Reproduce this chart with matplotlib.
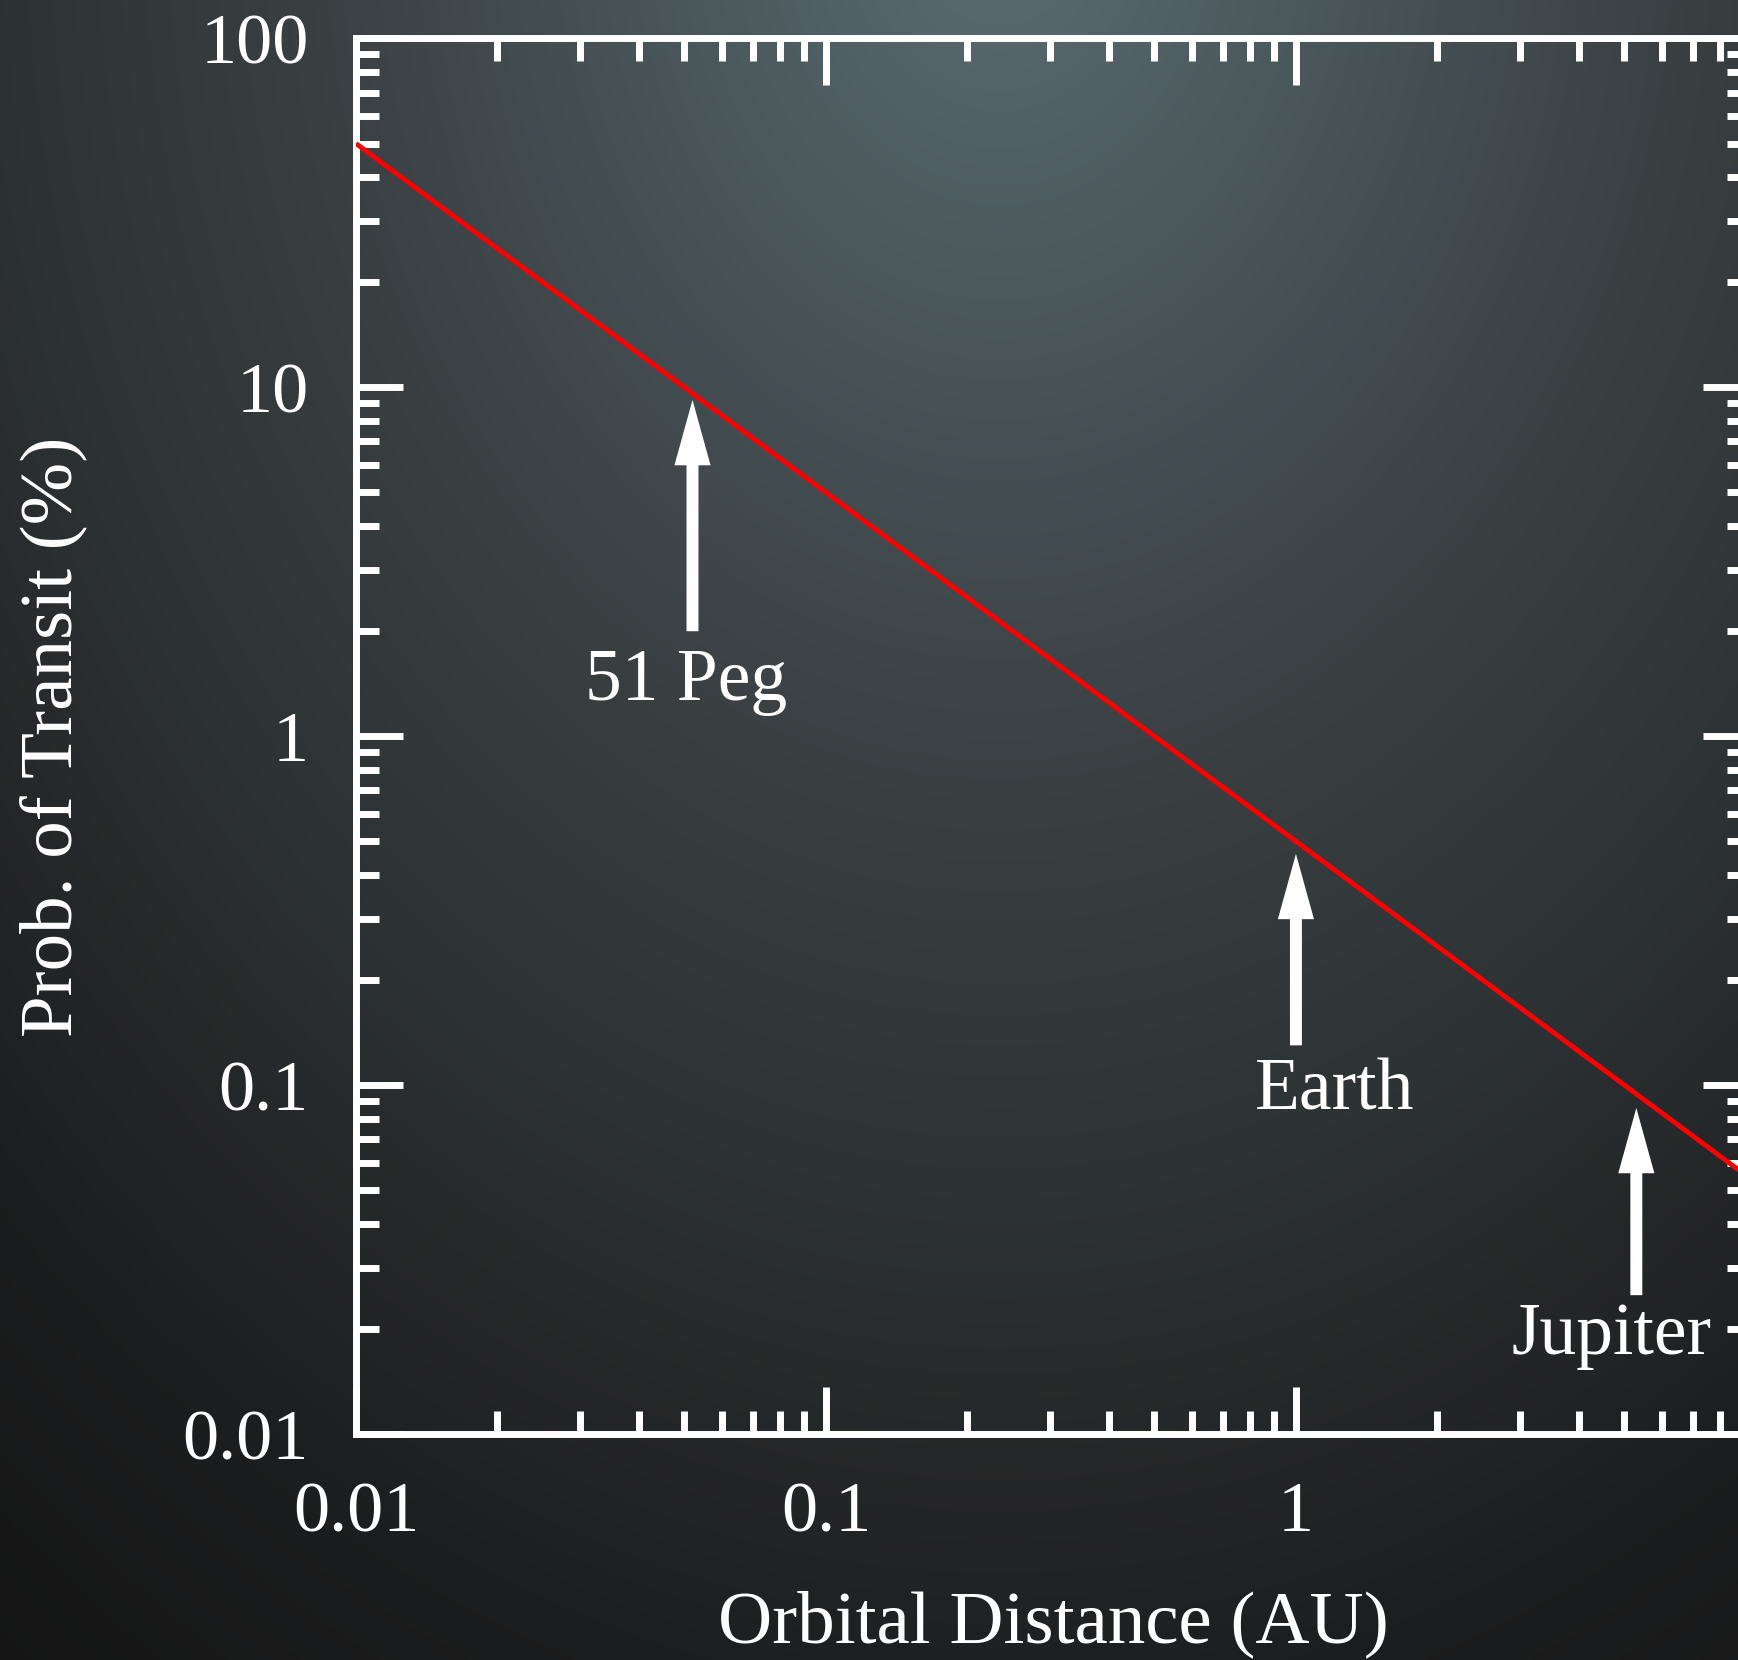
import numpy as np
import matplotlib
matplotlib.use("Agg")
import matplotlib.pyplot as plt
from matplotlib.ticker import LogLocator, FuncFormatter, NullFormatter
from matplotlib.colors import to_rgb

# ---------------- data ----------------
distance_au = [0.01, 10.0]          # orbital distance (AU), line endpoints
transit_prob = [50.0, 0.05]         # probability of transit (%)

planet_names = ["51 Peg", "Earth", "Jupiter"]
planet_dist = [0.052, 1.0, 5.3]     # AU
arrow_tip_prob = [9.2, 0.46, 0.086]
arrow_tail_prob = [2.0, 0.13, 0.025]

x_ticks = [0.01, 0.1, 1]
y_ticks = [0.01, 0.1, 1, 10, 100]

# ---------------- figure ----------------
W, H = 1738, 1660
plt.rcParams['font.family'] = ['Liberation Serif', 'DejaVu Serif']
fig = plt.figure(figsize=(W / 100, H / 100), dpi=100)

# background gradient
bg = fig.add_axes([0, 0, 1, 1], zorder=0)
gw, gh = 435, 415
xs = np.linspace(0, W, gw)
ys = np.linspace(0, H, gh)
X, Y = np.meshgrid(xs, ys)
D = np.sqrt((1.3 * (X - 1000)) ** 2 + (Y + 100) ** 2)
stops_d = [0, 400, 900, 1300, 1800, 2300]
stops_c = [to_rgb(c) for c in ["#5b6d72", "#4b585c", "#3a3f42", "#2d3234", "#1d1e1f", "#131313"]]
img = np.zeros((gh, gw, 3))
for k in range(3):
    img[..., k] = np.interp(D, stops_d, [c[k] for c in stops_c])
bg.imshow(img, extent=[0, 1, 0, 1], aspect='auto', origin='upper', interpolation='bilinear')
bg.set_axis_off()

# main axes (right spine lies just beyond the image edge)
left, right, top, bottom = 356, 1750, 38.5, 1434
ax = fig.add_axes([left / W, 1 - bottom / H, (right - left) / W, (bottom - top) / H], zorder=1)
ax.patch.set_alpha(0)
ax.set_xscale('log')
ax.set_yscale('log')
ax.set_xlim(0.01, 9.25)
ax.set_ylim(0.01, 100)

ax.plot(distance_au, transit_prob, color='#ff0000', lw=3.5, solid_capstyle='butt', zorder=3)

for s in ax.spines.values():
    s.set_color('white')
    s.set_linewidth(5)

ax.xaxis.set_major_locator(LogLocator(base=10, numticks=20))
ax.yaxis.set_major_locator(LogLocator(base=10, numticks=20))
ax.xaxis.set_minor_locator(LogLocator(base=10, subs=np.arange(2, 10), numticks=20))
ax.yaxis.set_minor_locator(LogLocator(base=10, subs=np.arange(2, 10), numticks=20))
fmt = FuncFormatter(lambda v, _: f"{v:g}")
ax.xaxis.set_major_formatter(fmt)
ax.yaxis.set_major_formatter(fmt)
ax.xaxis.set_minor_formatter(NullFormatter())
ax.yaxis.set_minor_formatter(NullFormatter())
ax.set_xticks(x_ticks, [f"{v:g}" for v in x_ticks])
ax.set_yticks(y_ticks, [f"{v:g}" for v in y_ticks])

ax.tick_params(which='both', direction='in', top=True, right=True,
               color='white', labelcolor='white', labelsize=52, pad=34)
ax.tick_params(which='major', length=34, width=5)
ax.tick_params(which='minor', length=16.5, width=5)

# arrows and labels
label_x = [0.0503, 1.21, 4.70]
label_y = [1.27, 0.085, 0.0169]
for name, xd, tip, tail, lx, ly in zip(planet_names, planet_dist, arrow_tip_prob,
                                      arrow_tail_prob, label_x, label_y):
    ax.annotate('', xy=(xd, tip), xytext=(xd, tail),
                arrowprops=dict(arrowstyle='simple,head_length=47,head_width=26,tail_width=8.6',
                                mutation_scale=1, shrinkA=0, shrinkB=0,
                                facecolor='white', edgecolor='white', lw=0),
                zorder=4)
    ax.text(lx, ly, name, color='white', fontsize=53, ha='center', va='baseline', zorder=4)

# axis labels
fig.text(1053 / W, 1 - 1642 / H, "Orbital Distance (AU)", color='white', fontsize=54,
         ha='center', va='baseline')
fig.text(53 / W, 1 - 737 / H, "Prob. of Transit (%)", color='white', fontsize=54,
         ha='center', va='center', rotation=90)

fig.savefig("out.png", dpi=100)
